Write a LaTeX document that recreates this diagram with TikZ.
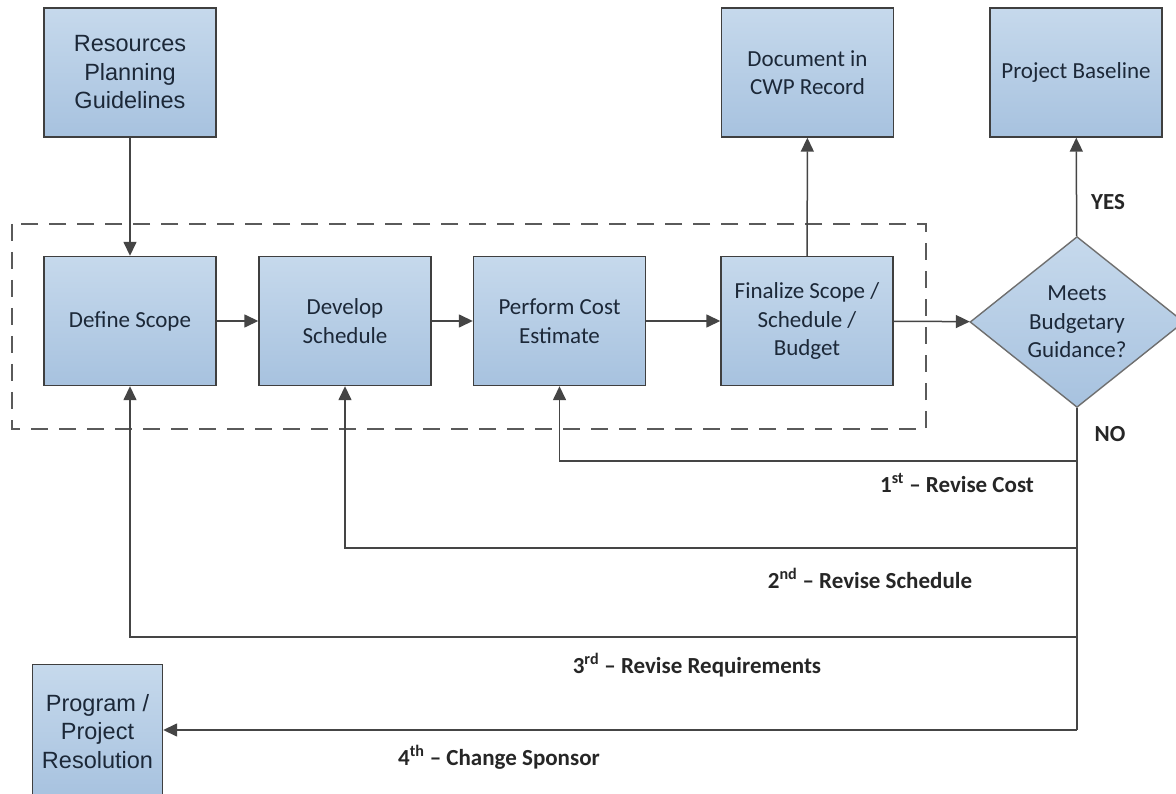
\documentclass[tikz,border=0pt]{standalone}
\usepackage{fontspec}
\setmainfont{Carlito}
\newfontfamily\arialfont{Liberation Sans}
\usetikzlibrary{arrows.meta,shapes.geometric}
\definecolor{boxtop}{HTML}{C6D9EC}
\definecolor{boxbot}{HTML}{A7C2DF}
\definecolor{edgecol}{HTML}{3F3F3F}
\definecolor{linecol}{HTML}{454545}
\definecolor{txtcol}{HTML}{1C2838}
\definecolor{dashcol}{HTML}{5A5A5A}

\begin{document}
\begin{tikzpicture}[x=1pt,y=-1pt,
  procbox/.style={draw=edgecol, line width=1.4pt, top color=boxtop, bottom color=boxbot,
    minimum width=172pt, minimum height=129pt, inner sep=0pt, align=center,
    text=txtcol, font=\fontsize{23}{28.5}\selectfont},
  arialbox/.style={procbox, font=\arialfont\fontsize{23.5}{28.5}\selectfont},
  decision/.style={diamond, draw=edgecol!75, line width=1.4pt, top color=boxtop, bottom color=boxbot,
    minimum width=214pt, minimum height=160pt, inner sep=0pt, align=center,
    text=txtcol, font=\fontsize{23}{28.5}\selectfont},
  conn/.style={draw=linecol, line width=1.5pt},
  arr/.style={conn, -{Triangle[length=14pt,width=13pt]}},
  lbl/.style={text=black!85, font=\bfseries\fontsize{23}{28}\selectfont, inner sep=0pt}
]
\useasboundingbox (0,0) rectangle (1176,794);
\fill[white] (0,0) rectangle (1176,794);

% grouping frame around the planning steps
\draw[dashcol, line width=1.5pt, dash pattern=on 17pt off 11pt] (12,224) rectangle (926,429);

% boxes
\node[arialbox] (res) at (130,72.5) {Resources\\Planning\\Guidelines};
\node[procbox] (def) at (130,321) {Define Scope};
\node[procbox] (dev) at (345,321) {Develop\\Schedule};
\node[procbox] (perf) at (559.5,321) {Perform Cost\\Estimate};
\node[procbox] (fin) at (807,321) {Finalize Scope /\\Schedule /\\Budget};
\node[procbox] (doc) at (807.5,72.5) {Document in\\CWP Record};
\node[procbox] (base) at (1076,72.5) {Project Baseline};
\node[decision] (dia) at (1077,322) {Meets\\Budgetary\\Guidance?};
\node[arialbox, minimum width=130pt, minimum height=134pt] (prog) at (97.5,731.5) {Program /\\Project\\Resolution};

% main flow
\draw[arr] (res) -- (def);
\draw[arr] (def) -- (dev);
\draw[arr] (dev) -- (perf);
\draw[arr] (perf) -- (fin);
\draw[arr] (fin) -- (dia);
\draw[arr] (fin) -- (doc);
\draw[arr] (dia) -- (base);

% revision loops
\coordinate (n1) at (1077,461);
\coordinate (n2) at (1077,548);
\coordinate (n3) at (1077,637);
\coordinate (n4) at (1077,730);
\draw[conn] (dia.south) -- (n4);
\draw[arr] (n1) -| (perf.south);
\draw[arr] (n2) -| (dev.south);
\draw[arr] (n3) -| (def.south);
\draw[arr] (n4) -- (n4 -| prog.east);

% labels
\node[lbl] (yes) at (1108,202) {YES};
\node[lbl] (no) at (1110,434) {NO};
\node[lbl] (l1) at (957,483) {1\textsuperscript{st} -- Revise Cost};
\node[lbl] (l2) at (870,578) {2\textsuperscript{nd} -- Revise Schedule};
\node[lbl] (l3) at (697,665) {3\textsuperscript{rd} -- Revise Requirements};
\node[lbl] (l4) at (499,757) {4\textsuperscript{th} -- Change Sponsor};
\end{tikzpicture}
\end{document}
